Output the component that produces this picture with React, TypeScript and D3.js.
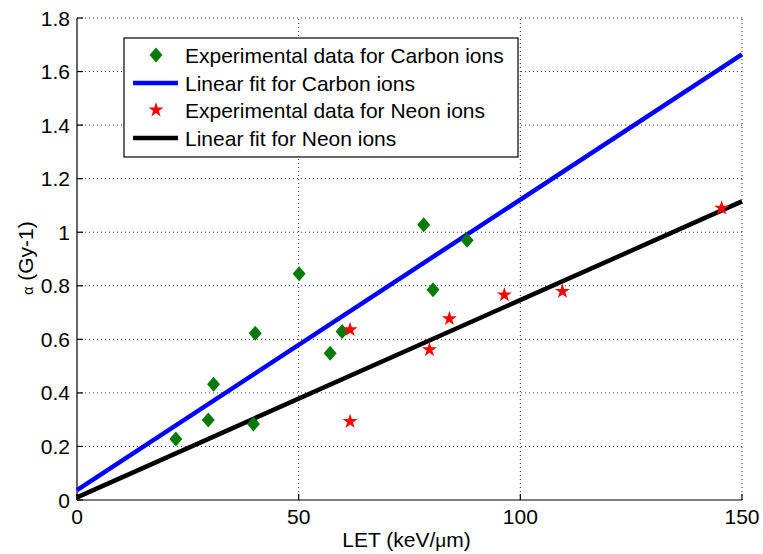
import React from "react";
import * as d3 from "d3";

// LET (keV/µm) and alpha (Gy-1) measurements
const carbonLET = [22.3, 29.6, 30.8, 39.8, 40.2, 50.1, 57.1, 59.8, 78.2, 80.3, 88.0];
const carbonAlpha = [0.228, 0.299, 0.432, 0.284, 0.623, 0.845, 0.548, 0.629, 1.028, 0.785, 0.97];
const neonLET = [61.6, 61.6, 79.5, 84.0, 96.4, 109.5, 145.4];
const neonAlpha = [0.636, 0.293, 0.561, 0.677, 0.766, 0.779, 1.09];

// Linear fits evaluated at the ends of the LET range
const fitLET = [0, 150];
const carbonFit = [0.037, 1.664];
const neonFit = [0.01, 1.115];

const xTicks = [0, 50, 100, 150];
const yTicks = [0, 0.2, 0.4, 0.6, 0.8, 1, 1.2, 1.4, 1.6, 1.8];

const legendLabels = [
  "Experimental data for Carbon ions",
  "Linear fit for Carbon ions",
  "Experimental data for Neon ions",
  "Linear fit for Neon ions",
];

const W = 763;
const H = 554;
const left = 77;
const right = 742;
const top = 18;
const bottom = 500;

const GREEN = "#087a08";
const RED = "#ff0000";
const BLUE = "#0000ff";
const FONT = "'Liberation Sans', Arial, sans-serif";

const x = d3.scaleLinear().domain([0, 150]).range([left, right]);
const y = d3.scaleLinear().domain([0, 1.8]).range([bottom, top]);

const diamond = (cx: number, cy: number, hw = 6.5, hh = 7.5) =>
  `M${cx},${cy - hh}L${cx + hw},${cy}L${cx},${cy + hh}L${cx - hw},${cy}Z`;

const starPath = d3.symbol(d3.symbolStar, 70)() as string;

const line = d3
  .line<number>()
  .x((_, i) => x(fitLET[i]))
  .y((d) => y(d));

export default function App() {
  const legendX = 124;
  const legendY = 38;
  const rowY = [55, 83, 110, 138];
  return (
    <svg width={W} height={H} style={{ position: "absolute", left: 0, top: 0, background: "#fff" }}>
      <rect width={W} height={H} fill="#fff" />
      {/* grid */}
      <g stroke="#333" strokeWidth={1} strokeDasharray="1,3">
        {xTicks.filter((t) => t > 0).map((t) => (
          <line key={"gx" + t} x1={x(t)} x2={x(t)} y1={bottom} y2={top} />
        ))}
        {yTicks.filter((t) => t > 0).map((t) => (
          <line key={"gy" + t} x1={left} x2={right} y1={y(t)} y2={y(t)} />
        ))}
      </g>
      {/* axes */}
      <g stroke="#000" strokeWidth={1.2}>
        <line x1={left} x2={left} y1={top} y2={bottom} />
        <line x1={left} x2={right} y1={bottom} y2={bottom} />
        {xTicks.map((t) => (
          <line key={"tx" + t} x1={x(t)} x2={x(t)} y1={bottom} y2={bottom - 6} />
        ))}
        {yTicks.map((t) => (
          <line key={"ty" + t} x1={left} x2={left + 6} y1={y(t)} y2={y(t)} />
        ))}
      </g>
      <g fontFamily={FONT} fontSize={21} fill="#000">
        {xTicks.map((t) => (
          <text key={"lx" + t} x={x(t)} y={bottom + 24} textAnchor="middle">
            {t}
          </text>
        ))}
        {yTicks.map((t) => (
          <text key={"ly" + t} x={left - 7} y={y(t) + 7.5} textAnchor="end">
            {t}
          </text>
        ))}
        <text x={(left + right) / 2 - 3} y={547} textAnchor="middle">
          LET (keV/<tspan fontSize={19}>μ</tspan>m)
        </text>
        <text transform={`translate(33,258) rotate(-90)`} textAnchor="middle">
          <tspan fontSize={14}>α</tspan> (Gy-1)
        </text>
      </g>
      {/* fits */}
      <path d={line(carbonFit) as string} fill="none" stroke={BLUE} strokeWidth={4.5} />
      <path d={line(neonFit) as string} fill="none" stroke="#000" strokeWidth={4.5} />
      {/* measurements */}
      {carbonLET.map((v, i) => (
        <path key={"c" + i} d={diamond(x(v), y(carbonAlpha[i]))} fill={GREEN} />
      ))}
      {neonLET.map((v, i) => (
        <path
          key={"n" + i}
          d={starPath}
          transform={`translate(${x(v)},${y(neonAlpha[i])})`}
          fill={RED}
        />
      ))}
      {/* legend */}
      <rect x={legendX} y={legendY} width={394} height={119} fill="#fff" stroke="#000" strokeWidth={1.2} />
      <path d={diamond(156, rowY[0])} fill={GREEN} />
      <line x1={133} x2={178} y1={rowY[1]} y2={rowY[1]} stroke={BLUE} strokeWidth={4.5} />
      <path d={starPath} transform={`translate(156,${rowY[2]})`} fill={RED} />
      <line x1={133} x2={178} y1={rowY[3]} y2={rowY[3]} stroke="#000" strokeWidth={4.5} />
      <g fontFamily={FONT} fontSize={21} fill="#000">
        {legendLabels.map((l, i) => (
          <text key={l} x={185} y={rowY[i] + 7.5}>
            {l}
          </text>
        ))}
      </g>
    </svg>
  );
}
